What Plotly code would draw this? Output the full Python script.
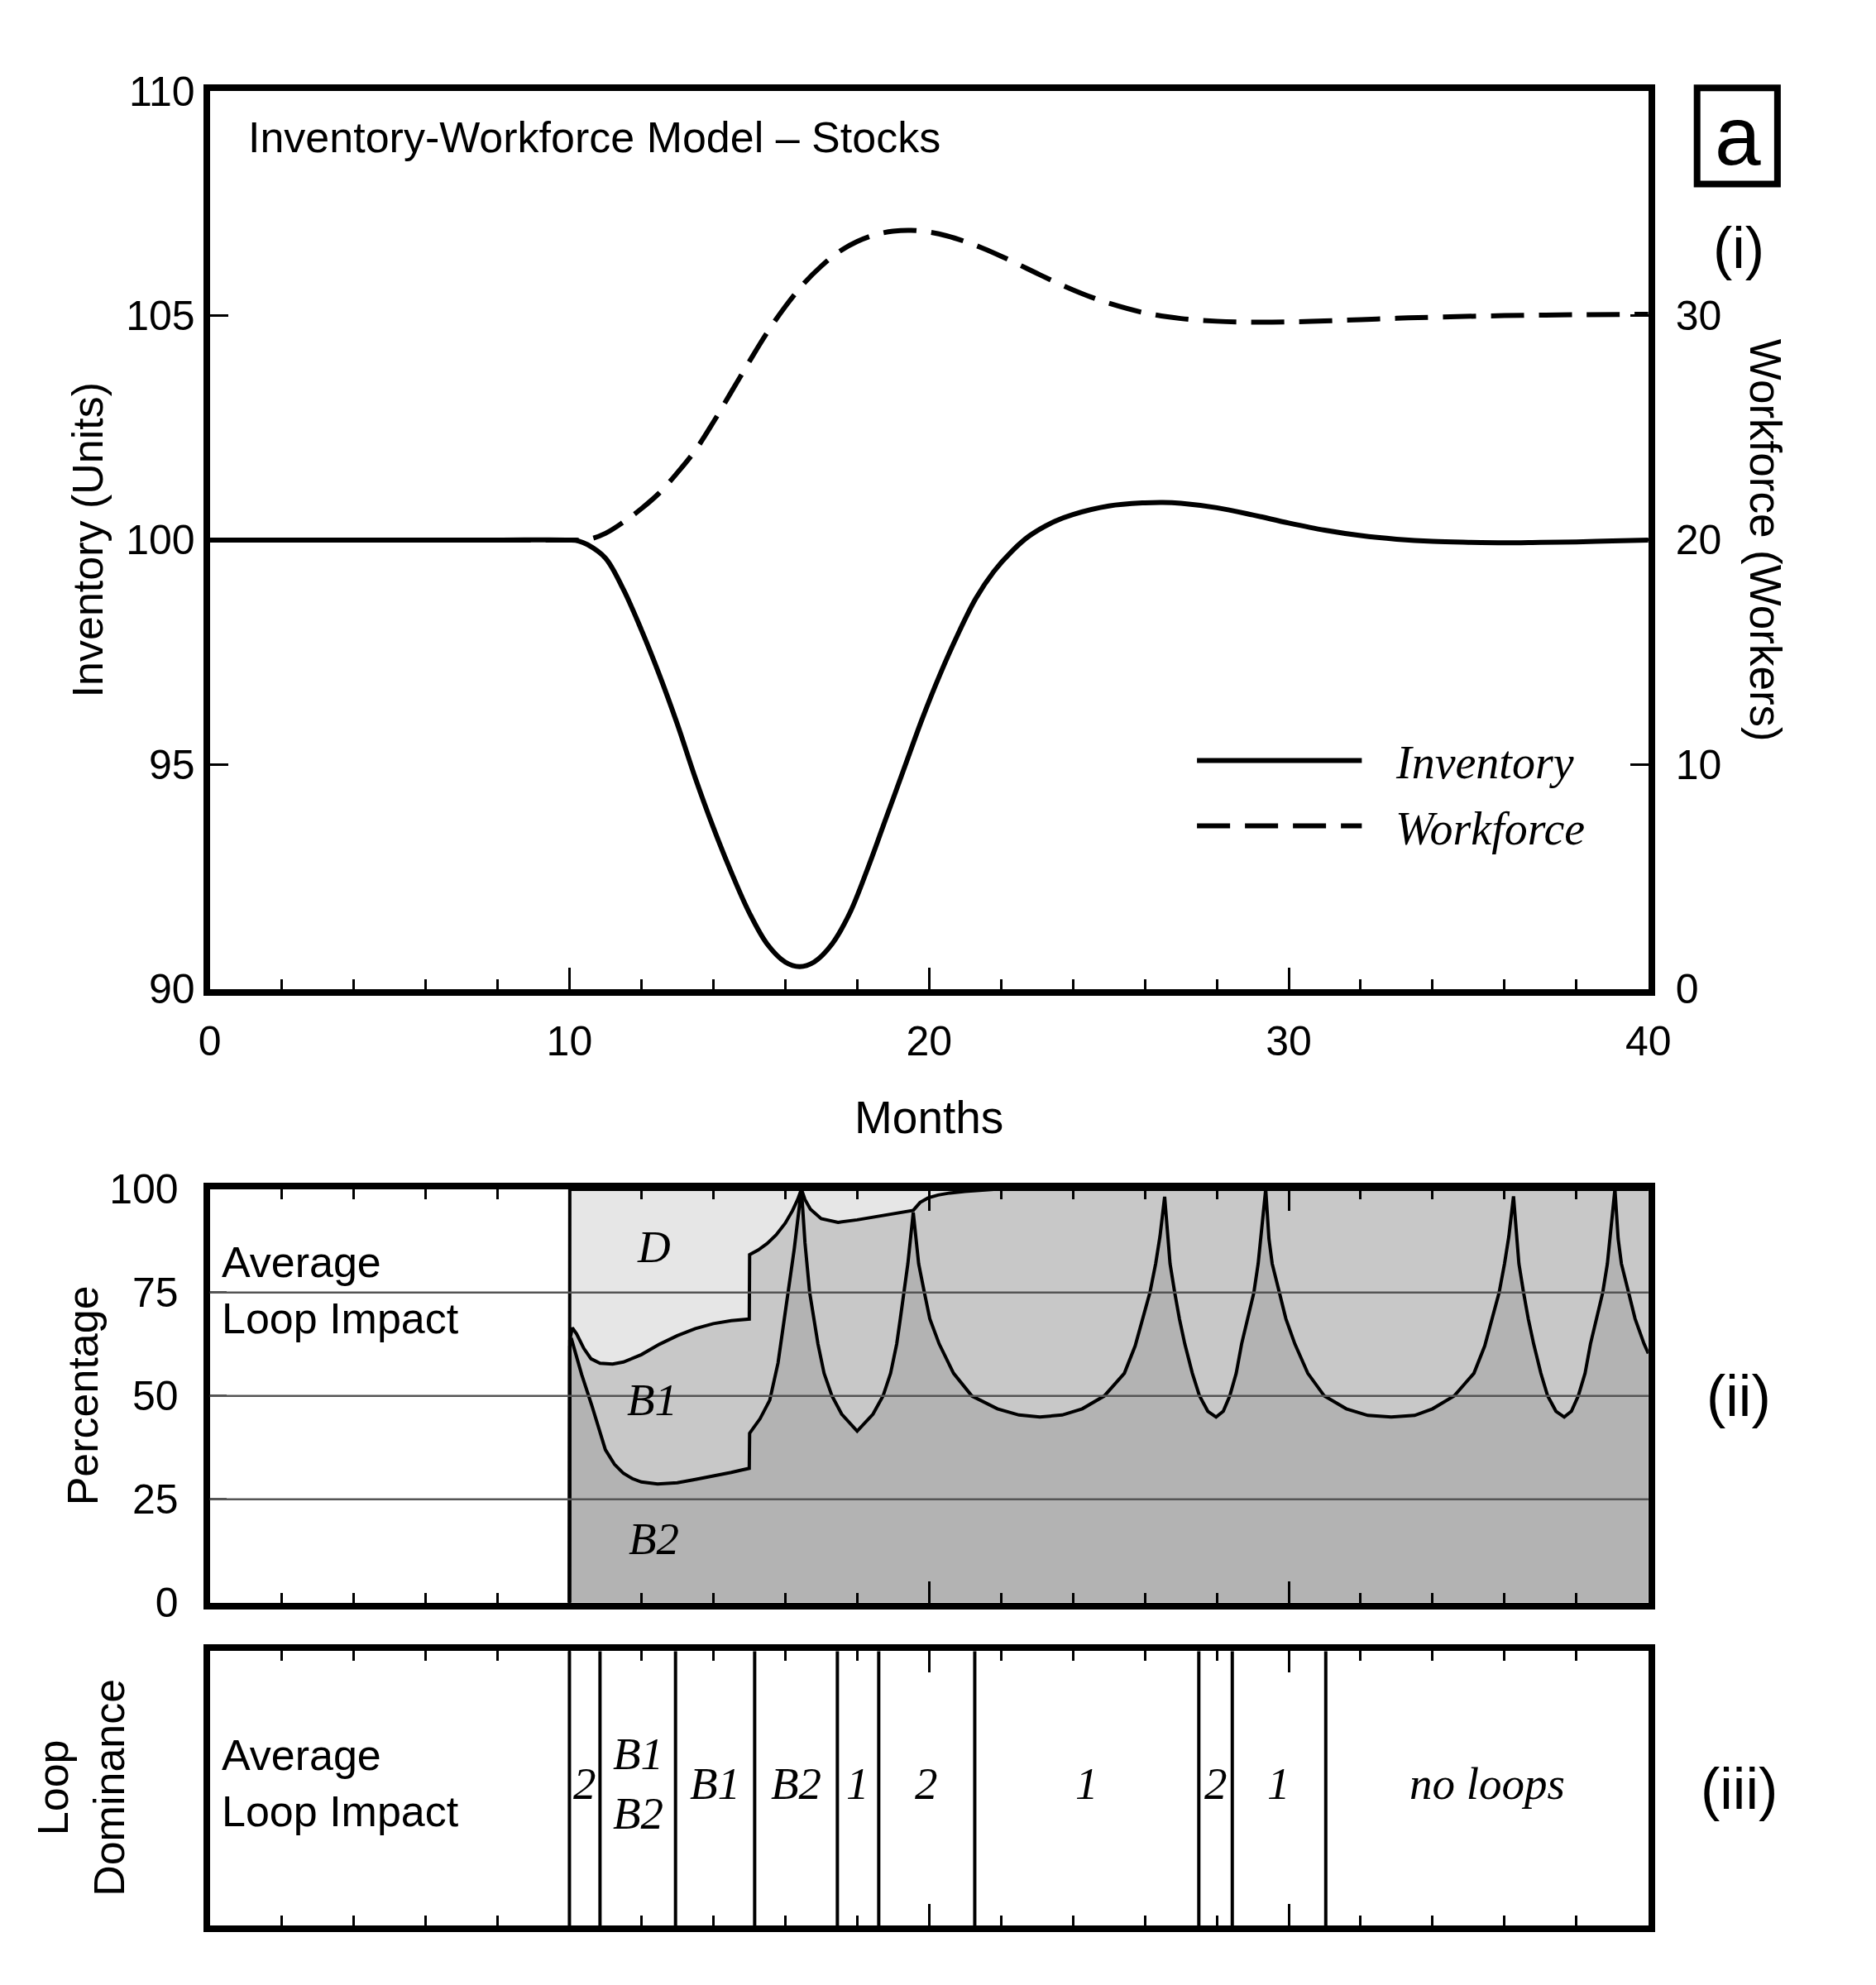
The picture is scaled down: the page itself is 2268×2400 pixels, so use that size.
import plotly.graph_objects as go

W, H = 2268, 2400

# ---------------- data: panel (i) stocks ----------------
months = [0, 2, 4, 6, 8, 10, 10.25, 10.5, 11, 11.5, 12, 12.5, 13, 13.5, 14, 14.5, 15, 15.5,
          16, 16.4, 16.8, 17.3, 17.8, 18.3, 18.8, 19.3, 19.8, 20.3, 20.8, 21.3, 21.8, 22.3,
          22.8, 23.5, 24, 25, 26, 26.5, 27, 28, 29, 30, 31, 32, 33, 34, 35, 36, 37, 38, 39, 40]
inventory = [100, 100, 100, 100, 100, 100, 99.98, 99.9, 99.6, 98.9, 98.0, 97.0, 95.9, 94.7,
             93.6, 92.6, 91.7, 91.0, 90.6, 90.5, 90.6, 91.0, 91.7, 92.7, 93.8, 94.9, 96.0,
             97.0, 97.9, 98.7, 99.3, 99.75, 100.1, 100.42, 100.57, 100.76, 100.83, 100.84,
             100.82, 100.72, 100.56, 100.38, 100.22, 100.1, 100.02, 99.97, 99.95, 99.94,
             99.95, 99.96, 99.98, 100.0]

wf_months = [0, 2, 4, 6, 8, 10, 10.5, 11, 11.5, 12, 12.5, 13, 13.5, 14, 14.5, 15, 15.5, 16,
             16.5, 17, 17.5, 18, 18.5, 19, 19.5, 20, 20.5, 21, 21.5, 22, 22.5, 23, 23.5, 24,
             24.5, 25, 26, 27, 28, 29, 30, 31, 32, 33, 34, 36, 38, 40]
workforce = [20, 20, 20, 20, 20, 20, 20.02, 20.3, 20.8, 21.4, 22.1, 23.0, 24.0, 25.25, 26.6,
             27.95, 29.25, 30.4, 31.4, 32.2, 32.85, 33.3, 33.6, 33.76, 33.8, 33.72, 33.55,
             33.3, 33.0, 32.65, 32.27, 31.88, 31.5, 31.15, 30.83, 30.55, 30.12, 29.87, 29.75,
             29.71, 29.72, 29.76, 29.82, 29.88, 29.93, 30.0, 30.04, 30.06]

# ---------------- data: panel (ii) average loop impact (cumulative %) ----------------
b2_t = [10.0, 10.01, 10.05, 10.15, 10.34, 10.63, 10.86, 11.0, 11.25, 11.5, 11.75, 12.0, 12.45,
        13.0, 13.5, 14.0, 14.5, 15.0, 15.01, 15.3, 15.57, 15.8, 16.04, 16.25, 16.45, 16.55,
        16.68, 16.91, 17.08, 17.3, 17.57, 18.0, 18.44, 18.72, 18.93, 19.1, 19.2, 19.31, 19.41,
        19.56, 19.71, 19.87, 20.02, 20.28, 20.68, 21.19, 21.9, 22.5, 23.08, 23.7, 24.26,
        24.87, 25.43, 25.73, 25.94, 26.14, 26.3, 26.42, 26.55, 26.63, 26.7, 26.83, 26.96,
        27.11, 27.32, 27.52, 27.75, 27.98, 28.18, 28.36, 28.54, 28.69, 28.85, 29.03, 29.15,
        29.23, 29.36, 29.45, 29.54, 29.74, 29.92, 30.17, 30.53, 30.99, 31.6, 32.2, 32.85,
        33.5, 34.0, 34.6, 35.15, 35.45, 35.65, 35.85, 36.0, 36.12, 36.25, 36.33, 36.4, 36.53,
        36.66, 36.81, 37.01, 37.2, 37.43, 37.66, 37.86, 38.05, 38.24, 38.39, 38.55, 38.73,
        38.86, 38.94, 39.07, 39.16, 39.25, 39.45, 39.63, 39.88, 40.0]
b2_pct = [0, 62, 64, 61, 55.2, 47.5, 41, 37, 33.5, 31.3, 30.0, 29.2, 28.7,
          29.0, 29.8, 30.6, 31.5, 32.5, 41.0, 44.5, 49, 58, 72, 85.5, 100, 87,
          75, 62.6, 55.5, 50, 45.6, 41.5, 45.6, 50, 55.5, 62.6, 68.7, 75, 82,
          94.4, 82, 75, 68.7, 62.6, 55.5, 50, 46.9, 45.4, 44.9, 45.4, 46.9,
          50, 55.5, 62.1, 68.7, 75, 82, 88.6, 98.2, 88.6, 82, 75, 68.7,
          62.6, 55.5, 50, 46.3, 44.9, 46.3, 50, 55.5, 62.6, 68.7, 75, 82,
          88.6, 100, 88, 82, 75, 68.7, 62.6, 55.5, 50, 46.9, 45.3, 44.9,
          45.3, 46.9, 50, 55.5, 62.1, 68.7, 75, 82, 88.6, 98.3, 88.6, 82, 75,
          68.7, 62.6, 55.5, 50, 46.3, 44.9, 46.3, 50, 55.5, 62.6, 68.7, 75,
          82, 88.6, 100, 88, 82, 75, 68.7, 62.6, 60.3]

b1_t = [10.0, 10.01, 10.08, 10.2, 10.4, 10.6, 10.85, 11.2, 11.5, 12.0, 12.5, 13.0, 13.5, 14.0,
        14.5, 15.0, 15.01, 15.25, 15.5, 15.75, 16.0, 16.2, 16.35, 16.45, 16.55, 16.7, 17.0,
        17.47, 18.0, 18.5, 19.0, 19.56, 19.75, 19.97, 20.25, 20.58, 21.0, 21.3, 21.8, 40.0]
b1b2_pct = [0, 63.5, 66.5, 65, 61.5, 59, 57.9, 57.7, 58.2, 60, 62.5, 64.6, 66.3, 67.5,
            68.2, 68.6, 84.2, 85.3, 86.9, 89.0, 91.8, 94.8, 97.6, 100, 97.5, 95.2, 92.9,
            92.0, 92.6, 93.4, 94.1, 94.9, 96.8, 97.9, 98.6, 99.1, 99.5, 99.7, 100, 100]

d_t = [10.0, 10.01, 40.0]
d_pct = [0, 100, 100]

pct_ticks = [0, 25, 50, 75, 100]
grid_levels = [25, 50, 75]
area_labels = ["<i>D</i>", "<i>B1</i>", "<i>B2</i>"]
area_label_x = [12.35, 12.3, 12.35]
area_label_y = [86, 49, 15.5]

# ---------------- data: panel (iii) loop dominance ----------------
dom_bounds = [10.0, 10.85, 12.95, 15.15, 17.45, 18.6, 21.27, 27.5, 28.43, 31.03, 40.0]
dom_labels = ["2", "B1<br>B2", "B1", "B2", "1", "2", "1", "2", "1", "no loops"]

# ---------------- helpers ----------------
OFF = 8  # page body margin compensation

def px(x):
    return (x - OFF) / W

def py(y):
    return 1 - (y - OFF) / H

SANS = "Liberation Sans"
SERIF = "Liberation Serif"
LW = 8            # frame width
XR = [0, 40]

fig = go.Figure()

# panel (i)
fig.add_trace(go.Scatter(x=wf_months, y=workforce, yaxis="y2", mode="lines",
                         line=dict(color="black", width=6, dash="40px,18px", shape="spline"),
                         showlegend=False))
fig.add_trace(go.Scatter(x=months, y=inventory, mode="lines",
                         line=dict(color="black", width=6, shape="spline"),
                         showlegend=False))

# panel (ii)
fig.add_trace(go.Scatter(x=b2_t, y=b2_pct, xaxis="x2", yaxis="y3", mode="lines",
                         fill="tozeroy", fillcolor="#b3b3b3",
                         line=dict(color="black", width=4), showlegend=False))
fig.add_trace(go.Scatter(x=b1_t, y=b1b2_pct, xaxis="x2", yaxis="y3", mode="lines",
                         fill="tonexty", fillcolor="#c8c8c8",
                         line=dict(color="black", width=4), showlegend=False))
fig.add_trace(go.Scatter(x=d_t, y=d_pct, xaxis="x2", yaxis="y3", mode="lines",
                         fill="tonexty", fillcolor="#e6e6e6",
                         line=dict(color="black", width=4), showlegend=False))

# panel (iii) boundaries
vx, vy = [], []
for b in dom_bounds[:-1]:
    vx += [b, b, None]
    vy += [0, 1, None]
fig.add_trace(go.Scatter(x=vx, y=vy, xaxis="x3", yaxis="y4", mode="lines",
                         line=dict(color="black", width=4), showlegend=False))

xdom = [px(244), px(2016)]
dom1 = [py(1196), py(84)]
dom2 = [py(1956), py(1444)]
dom3 = [py(2356), py(2016)]

tickfont = dict(family=SANS, size=50, color="black")
minor = dict(dtick=2, tick0=0, ticks="inside", ticklen=12, tickwidth=3, tickcolor="black",
             showgrid=False)

common_x = dict(domain=xdom, range=XR, tick0=0, dtick=10, ticks="inside", ticklen=26,
                tickwidth=3, tickcolor="black", showline=True, linewidth=LW, linecolor="black",
                showgrid=False, zeroline=False, minor=minor, tickfont=tickfont)

fig.update_layout(
    width=W, height=H, autosize=False,
    margin=dict(l=0, r=0, t=0, b=0),
    paper_bgcolor="white", plot_bgcolor="white",
    showlegend=False,
    xaxis=dict(**common_x, anchor="y", mirror=True, ticklabelstandoff=12),
    yaxis=dict(domain=dom1, range=[90, 110], tick0=90, dtick=5,
               ticks="inside", ticklen=22, tickwidth=3, tickcolor="black",
               showline=True, linewidth=LW, linecolor="black", mirror=True,
               showgrid=False, zeroline=False, tickfont=tickfont, ticklabelstandoff=0),
    yaxis2=dict(overlaying="y", side="right", range=[0, 40],
                tickvals=[0, 10, 20, 30], ticks="inside", ticklen=22, tickwidth=3,
                tickcolor="black", showline=False, showgrid=False, zeroline=False,
                tickfont=tickfont, ticklabelstandoff=32),
    xaxis2=dict(**common_x, anchor="y3", mirror="ticks", showticklabels=False,
                layer="above traces"),
    yaxis3=dict(domain=dom2, range=[0, 100], tickvals=pct_ticks,
                ticks="inside", ticklen=20, tickwidth=3, tickcolor="#555555",
                showline=True, linewidth=LW, linecolor="black", mirror=True,
                showgrid=False, zeroline=False, tickfont=tickfont, ticklabelstandoff=20,
                layer="above traces"),
    xaxis3=dict(**common_x, anchor="y4", mirror="ticks", showticklabels=False,
                layer="above traces"),
    yaxis4=dict(domain=dom3, range=[0, 1], showticklabels=False, ticks="",
                showline=True, linewidth=LW, linecolor="black", mirror=True,
                showgrid=False, zeroline=False, layer="above traces"),
)

shapes = []
for g in grid_levels:
    shapes.append(dict(type="line", xref="x2 domain", yref="y3", x0=0, x1=1, y0=g, y1=g,
                       line=dict(color="#555555", width=2.5), layer="above"))
# panel label box
shapes.append(dict(type="rect", xref="paper", yref="paper", x0=px(2076), x1=px(2175),
                   y0=py(199), y1=py(80), line=dict(color="black", width=8)))
# legend samples
shapes.append(dict(type="line", xref="paper", yref="paper", x0=px(1460), x1=px(1663),
                   y0=py(913), y1=py(913), line=dict(color="black", width=6)))
shapes.append(dict(type="line", xref="paper", yref="paper", x0=px(1460), x1=px(1663),
                   y0=py(994), y1=py(994), line=dict(color="black", width=6, dash="40px,18px")))
fig.update_layout(shapes=shapes)

ann = []
def A(text, x, y, size=51, family=SANS, xanchor="center", yanchor="middle", angle=0,
      xref="paper", yref="paper", align="center"):
    ann.append(dict(text=text, x=x, y=y, xref=xref, yref=yref, showarrow=False,
                    xanchor=xanchor, yanchor=yanchor, textangle=angle, align=align,
                    font=dict(family=family, size=size, color="black")))

A("Inventory-Workforce Model – Stocks", px(289), py(141), size=52, xanchor="left")
A("a", px(2126), py(139), size=100)
A("(i)", px(2127), py(278), size=70)
A("(ii)", px(2127), py(1700), size=70)
A("(iii)", px(2128), py(2187), size=70)
A("Inventory (Units)", px(94), py(640), size=52, angle=-90)
A("Workforce (Workers)", px(2160), py(640), size=53, angle=90)
A("Months", px(1130), py(1355), size=55)
A("Percentage", px(87), py(1700), size=52, angle=-90)
A("Loop<br>Dominance", px(86), py(2185), size=52, angle=-90)
A("<i>Inventory</i>", px(1702), py(916), size=56, family=SERIF, xanchor="left")
A("<i>Workforce</i>", px(1702), py(997), size=56, family=SERIF, xanchor="left")
A("Average<br>Loop Impact", px(257), py(1569), xanchor="left", align="left", size=52)
A("Average<br>Loop Impact", px(257), py(2180), xanchor="left", align="left", size=52)
for t, xx, yy in zip(area_labels, area_label_x, area_label_y):
    A(t, xx, yy, size=55, family=SERIF, xref="x2", yref="y3")
for i, lab in enumerate(dom_labels):
    mid = (dom_bounds[i] + dom_bounds[i + 1]) / 2
    A("<i>" + lab + "</i>", mid, 0.517, size=55, family=SERIF, xref="x3", yref="y4")
fig.update_layout(annotations=ann)

fig.write_html("out.html")
